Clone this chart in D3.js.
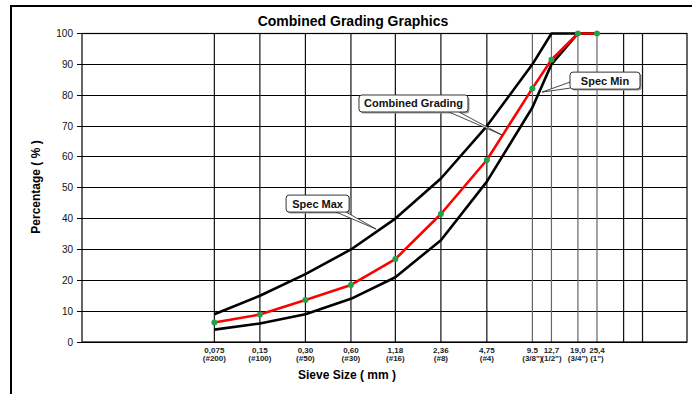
<!DOCTYPE html>
<html>
<head>
<meta charset="utf-8">
<script src="https://cdn.jsdelivr.net/npm/d3@7"></script>
<style>
  html, body { margin: 0; padding: 0; background: #fff; }
  svg { display: block; }
  text { font-family: Arial, "Liberation Sans", sans-serif; }
</style>
</head>
<body>
<script>
// ---------- DATA ----------
const sieveSizes   = [0.075, 0.15, 0.30, 0.60, 1.18, 2.36, 4.75, 9.5, 12.7, 19.0, 25.4];
const sieveLabels  = ["0,075", "0,15", "0,30", "0,60", "1,18", "2,36", "4,75", "9.5", "12,7", "19,0", "25,4"];
const sieveSubLabels = ["(#200)", "(#100)", "(#50)", "(#30)", "(#16)", "(#8)", "(#4)", "(3/8\")", "(1/2\")", "(3/4\")", "(1\")"];
const extraGridSizes = [38.1, 50.8];
const specMax   = [9, 15, 22, 30, 40, 53, 70, 90, 100, 100, 100];
const specMin   = [4, 6, 9, 14, 21, 33, 52, 76, 90, 100, 100];
const combined  = [6.3, 8.9, 13.6, 18.5, 26.9, 41.5, 59, 82.2, 91.5, 100, 100];
const yTicks    = [0, 10, 20, 30, 40, 50, 60, 70, 80, 90, 100];
const callouts  = [
  { text: "Spec Max",         at: [0.88, 36.6] },
  { text: "Combined Grading", at: [5.98, 67.1] },
  { text: "Spec Min",         at: [11.0, 81.0] }
];

// ---------- LAYOUT ----------
const W = 692, H = 394;
const svg = d3.select("body").append("svg").attr("width", W).attr("height", H);
svg.append("rect").attr("width", W).attr("height", H).attr("fill", "#fff");

// outer frame (left + top visible)
svg.append("path").attr("d", "M11,394 L11,6 L692,6").attr("fill", "none")
  .attr("stroke", "#000").attr("stroke-width", 2);

const L = 82, R = 687, T = 33.5, B = 342;
const x = d3.scaleLog().domain([0.01, 100]).range([L, R]);
const y = d3.scaleLinear().domain([0, 100]).range([B, T]);

// title
svg.append("text").attr("x", 353).attr("y", 26).attr("text-anchor", "middle")
  .attr("font-size", 14).attr("font-weight", "bold").text("Combined Grading Graphics");

// horizontal grid
svg.append("g").selectAll("line").data(yTicks).join("line")
  .attr("x1", L - 5).attr("x2", R).attr("y1", d => y(d)).attr("y2", d => y(d))
  .attr("stroke", "#000").attr("stroke-width", 1).attr("shape-rendering", "crispEdges");

// vertical grid
const coarse = new Set([9.5, 12.7, 19.0, 25.4]);
svg.append("g").selectAll("line").data(sieveSizes.concat(extraGridSizes)).join("line")
  .attr("x1", d => x(d)).attr("x2", d => x(d)).attr("y1", T).attr("y2", B)
  .attr("stroke", d => coarse.has(d) ? "#666" : "#111").attr("stroke-width", 1.2);

// plot border
svg.append("rect").attr("x", L).attr("y", T).attr("width", R - L).attr("height", B - T)
  .attr("fill", "none").attr("stroke", "#000").attr("stroke-width", 1.2);

// y axis labels
svg.append("g").selectAll("text").data(yTicks).join("text")
  .attr("x", 73).attr("y", d => y(d) + 3.5).attr("text-anchor", "end")
  .attr("font-size", 10).attr("fill", "#111").text(d => d);

svg.append("text").attr("transform", "translate(40,187) rotate(-90)")
  .attr("text-anchor", "middle").attr("font-size", 12).attr("font-weight", "bold")
  .text("Percentage ( % )");

// x axis labels
const xl = svg.append("g");
xl.selectAll("text.l1").data(sieveSizes).join("text").attr("class", "l1")
  .attr("x", (d) => x(d)).attr("y", 353).attr("text-anchor", "middle")
  .attr("font-size", 8).attr("font-weight", "bold").attr("fill", "#222")
  .text((d, i) => sieveLabels[i]);
xl.selectAll("text.l2").data(sieveSizes).join("text").attr("class", "l2")
  .attr("x", (d) => x(d)).attr("y", 361).attr("text-anchor", "middle")
  .attr("font-size", 8).attr("font-weight", "bold").attr("fill", "#222")
  .text((d, i) => sieveSubLabels[i]);

svg.append("text").attr("x", 347).attr("y", 379).attr("text-anchor", "middle")
  .attr("font-size", 12).attr("font-weight", "bold").text("Sieve Size ( mm )");

// lines
const line = d3.line().x(d => x(d[0])).y(d => y(d[1]));
const pts = arr => sieveSizes.map((s, i) => [s, arr[i]]);
svg.append("path").attr("d", line(pts(specMax))).attr("fill", "none")
  .attr("stroke", "#000").attr("stroke-width", 2.6).attr("stroke-linejoin", "round");
svg.append("path").attr("d", line(pts(specMin))).attr("fill", "none")
  .attr("stroke", "#000").attr("stroke-width", 2.6).attr("stroke-linejoin", "round");
svg.append("path").attr("d", line(pts(combined))).attr("fill", "none")
  .attr("stroke", "#ff0000").attr("stroke-width", 2.6).attr("stroke-linejoin", "round");
svg.append("g").selectAll("circle").data(pts(combined)).join("circle")
  .attr("cx", d => x(d[0])).attr("cy", d => y(d[1])).attr("r", 3)
  .attr("fill", "#1fa24a");

// callouts
const boxSpec = [
  { dx: -90,  dy: -34, w: 63,  base: [[50, 17], [60, 17]] },
  { dx: -143, dy: -40, w: 109, base: [[90, 17], [100, 17]] },
  { dx: 28,   dy: -20, w: 70,  base: [[0, 10], [0, 16]] }
];
callouts.forEach((c, i) => {
  const tx = x(c.at[0]), ty = y(c.at[1]);
  const b = boxSpec[i];
  const bx = tx + b.dx, by = ty + b.dy, bh = 17;
  const g = svg.append("g");
  g.append("rect").attr("x", bx + 1.5).attr("y", by + 1.5).attr("width", b.w).attr("height", bh)
    .attr("rx", 3).attr("fill", "#999");
  g.append("path")
    .attr("d", `M${bx + b.base[0][0]},${by + b.base[0][1]} L${tx},${ty} L${bx + b.base[1][0]},${by + b.base[1][1]}`)
    .attr("fill", "#fff").attr("stroke", "#333").attr("stroke-width", 0.9);
  g.append("rect").attr("x", bx).attr("y", by).attr("width", b.w).attr("height", bh)
    .attr("rx", 3).attr("fill", "#fff").attr("stroke", "#333").attr("stroke-width", 1);
  g.append("text").attr("x", bx + b.w / 2).attr("y", by + 12.5).attr("text-anchor", "middle")
    .attr("font-size", 11).attr("font-weight", "bold").attr("fill", "#111").text(c.text);
});
</script>
</body>
</html>
